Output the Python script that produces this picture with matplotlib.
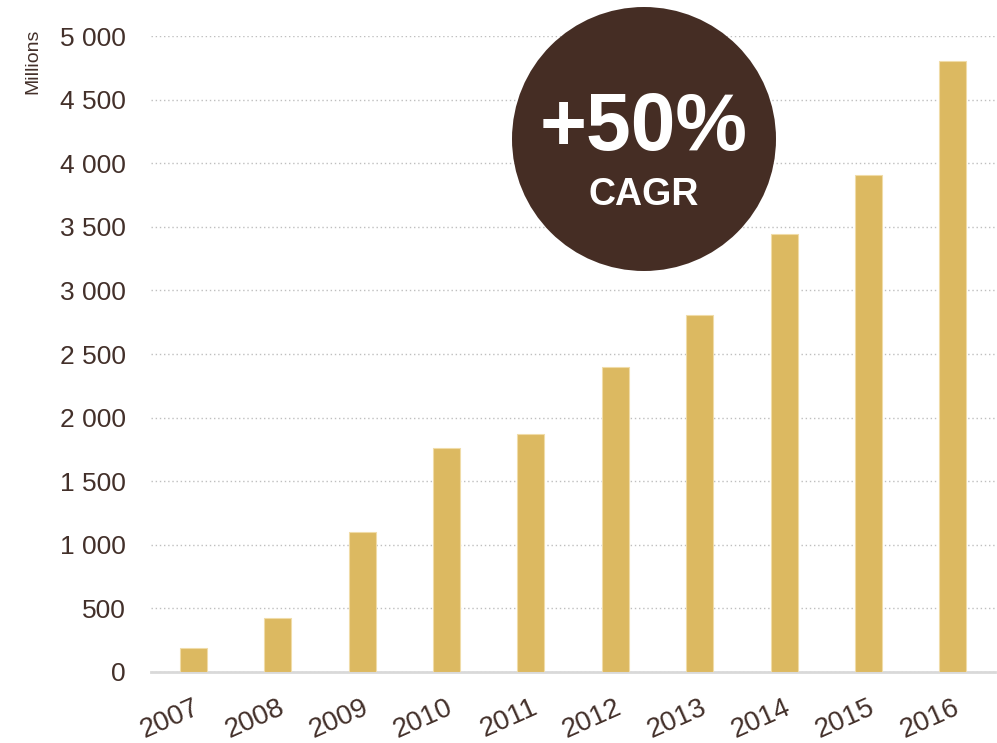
import matplotlib.pyplot as plt
from matplotlib.patches import Ellipse
from matplotlib.ticker import FuncFormatter

# Data (millions)
years = ['2007', '2008', '2009', '2010', '2011', '2012', '2013', '2014', '2015', '2016']
values = [190, 425, 1100, 1760, 1870, 2400, 2810, 3440, 3910, 4800]
yticks = [0, 500, 1000, 1500, 2000, 2500, 3000, 3500, 4000, 4500, 5000]

bar_color = '#DCB961'
brown = '#452D24'
text_color = '#43302A'

plt.rcParams['font.family'] = ['Liberation Sans', 'DejaVu Sans']

fig = plt.figure(figsize=(9.97, 7.43), dpi=100)
ax = fig.add_axes([0.1515, 0.0956, 0.8465, 0.8559])

x = range(len(years))
ax.bar(x, values, width=0.32, color=bar_color, edgecolor='#F0DCA8', linewidth=0.8, zorder=3)

ax.set_xlim(-0.5, len(years) - 0.5)
ax.set_ylim(0, 5000)
ax.set_yticks(yticks)
ax.yaxis.set_major_formatter(FuncFormatter(lambda v, p: f'{int(v):,}'.replace(',', ' ')))
ax.yaxis.grid(True, linestyle=(0, (1, 2)), color='#BFBFBF', linewidth=1)
ax.set_axisbelow(True)

for s in ['top', 'right', 'left']:
    ax.spines[s].set_visible(False)
ax.spines['bottom'].set_color('#D9D9D9')
ax.spines['bottom'].set_linewidth(2)

ax.tick_params(axis='y', length=0, pad=18, labelsize=19, labelcolor=text_color)
ax.tick_params(axis='x', length=0, pad=16, labelsize=20, labelcolor=text_color)
ax.set_xticks(list(x))
ax.set_xticklabels(years, rotation=24, ha='right', rotation_mode='anchor')

fig.text(0.033, 0.962, 'Millions', rotation=90, fontsize=14, color=text_color,
         ha='center', va='top')

# CAGR badge
cx, cy, d = 644 / 997, 1 - 139 / 743, 264
fig.add_artist(Ellipse((cx, cy), d / 997, d / 743, transform=fig.transFigure,
                       facecolor=brown, edgecolor='none', zorder=10))
fig.text(cx, cy + 0.013, '+50%', fontsize=58, fontweight='bold', color='white',
         ha='center', va='center', zorder=11)
fig.text(cx, cy - 0.075, 'CAGR', fontsize=27, fontweight='bold', color='white',
         ha='center', va='center', zorder=11)

fig.savefig('out.png', dpi=100)
